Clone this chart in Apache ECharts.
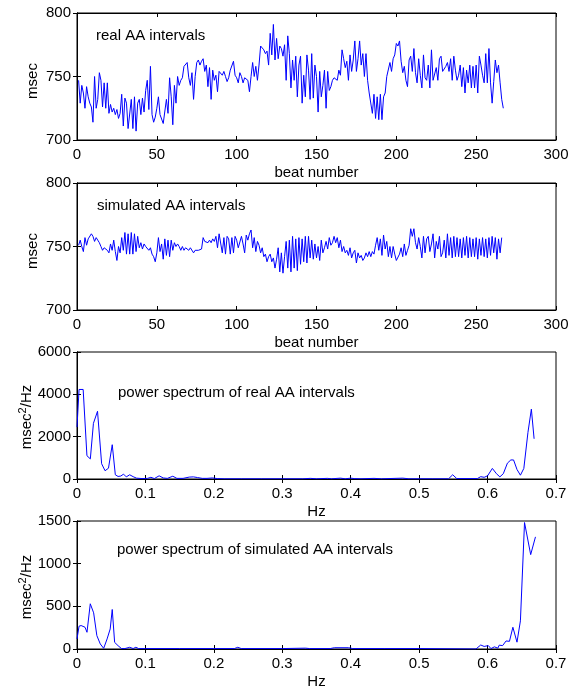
<!DOCTYPE html>
<html><head><meta charset="utf-8">
<script src="https://cdn.jsdelivr.net/npm/echarts@6/dist/echarts.min.js"></script>
<style>html,body{margin:0;padding:0;background:#fff}#c{width:580px;height:692px}</style>
</head><body><div id="c"></div>
<script>
// real AA intervals (msec), beats 1..267
const realAA = [
747,729,743,737,725, 742,734,729,726,714, 750,725,732,753,747, 726,745,725,745,721,
728,722,725,720,724, 717,721,736,711,733, 729,709,708,732,709, 734,707,729,732,720,
733,722,739,747,724, 758,720,714,718,725, 734,720,721,713,712, 732,721,749,734,712,
743,729,750,743,747, 749,758,758,761,749, 743,753,732,750,761, 763,759,762,764,754,
759,742,757,732,755, 747,751,738,754,755, 751,754,750,746,749, 755,754,762,751,749,
745,753,
750,745,749,750,747,738,750,761,750,758,747,759,774,775,771,768,770,759,784,767,
791,763,780,764,774,772,766,775,747,782,768,741,763,747,766,734,759,766,729,751,
734,767,755,732,768,733,759,750,722,754,734,743,755,725,754,739,742,747,749,750,
747,755,751,771,764,757,762,747,767,754,763,778,754,764,778,759,768,750,768,747,
737,738,721,736,717,734,716,736,716,734,737,750,749,761,754,764,767,776,774,
778,762,753,758,747,742,763,766,754,772,753,745,764,751,741,767,749,747,759,741,
771,747,746,757,747,764,766,754,754,758,761,754,764,747,766,755,747,751,759,742,
757,737,755,745,759,741,758,741,759,737,766,759,751,745,768,745,772,745,729,746,
763,753,759,745,732,725
];
// simulated AA intervals (msec), beats 1..266
const simAA = [
751,755,750,746,757,751,756,757,760,758,754,757,755,753,750,747,749,750,747,745,
752,747,755,746,739,750,745,757,747,761,744,760,744,761,744,760,746,758,749,753,
748,752,750,751,747,749,744,742,738,745,757,746,752,740,756,743,755,742,755,747,
753,750,752,750,747,750,747,749,750,747,749,750,745,747,747,747,748,748,757,754,
755,753,755,753,756,754,758,749,760,761,745,757,744,758,756,744,757,745,758,755,749,
750,758,752,745,759,755,760,763,749,
757,746,754,751,745,749,742,744,738,742,744,738,741,733,740,749,730,745,729,742,
754,733,755,730,758,733,756,731,757,736,756,738,758,737,758,741,755,740,752,741,
750,739,755,745,749,754,748,757,751,753,758,753,757,749,755,746,750,745,747,743,
749,741,745,747,737,745,741,743,739,741,745,742,746,742,746,744,751,757,747,756,
743,759,748,754,742,750,741,750,744,739,
738,744,749,742,752,743,747,751,764,758,764,753,748,757,750,741,758,745,756,758,
746,752,760,741,754,748,758,742,745,755,741,760,743,757,741,758,742,757,742,756,
741,757,743,758,741,757,742,756,742,757,740,756,743,757,742,756,741,757,743,758,
745,757,740,756,745,757
];
// power spectrum of real AA intervals
const realFreq = [0,0.003,0.009,0.0145,0.0195,0.024,0.030,0.036,0.041,0.046,0.0515,0.056,0.06,0.064,0.068,0.072,0.077,0.082,0.087,0.095,0.103,0.108,0.113,0.12,0.126,0.132,0.14,0.146,0.155,0.164,0.17,0.176,0.183,0.19,0.198,0.205,0.215,0.24,0.27,0.3,0.33,0.341,0.35,0.366,0.372,0.385,0.392,0.4,0.405,0.415,0.434,0.445,0.476,0.485,0.52,0.543,0.549,0.555,0.585,0.59,0.595,0.6,0.607,0.613,0.618,0.623,0.629,0.634,0.638,0.643,0.648,0.653,0.659,0.664,0.668];
const realPower = [2450,4230,4230,1100,950,2630,3200,720,390,510,1620,200,120,140,230,100,200,110,40,20,30,80,20,150,50,30,130,30,30,90,100,70,30,30,50,20,10,10,10,10,10,30,10,30,10,40,10,40,20,10,30,10,40,10,10,10,200,20,20,110,80,150,500,250,100,250,750,900,900,450,180,500,2200,3300,1900];
// power spectrum of simulated AA intervals
const simFreq = [0,0.003,0.006,0.0087,0.0117,0.0146,0.0194,0.0243,0.029,0.034,0.039,0.044,0.0485,0.0515,0.055,0.06,0.065,0.07,0.077,0.082,0.086,0.09,0.1,0.15,0.2,0.23,0.235,0.24,0.3,0.334,0.34,0.37,0.376,0.397,0.403,0.45,0.5,0.583,0.59,0.595,0.601,0.605,0.61,0.615,0.617,0.622,0.627,0.632,0.637,0.643,0.648,0.654,0.663,0.670];
const simPower = [118,267,275,275,255,196,530,424,157,59,8,118,235,463,78,39,5,5,20,5,20,5,5,5,5,5,20,5,5,10,5,5,15,15,5,5,5,0,47,30,40,5,25,10,45,40,94,90,255,80,330,1482,1106,1314];

const panelTitles = ['real AA intervals','simulated AA intervals','power spectrum of real AA intervals','power spectrum of simulated AA intervals'];
const xNames = ['beat number','beat number','Hz','Hz'];
const yNames = ['{a|msec}','{a|msec}','{a|msec}{s|2}{a|/Hz}','{a|msec}{s|2}{a|/Hz}'];

const FONT = '"Liberation Sans", Arial, sans-serif';
const gridPos = [
  {left:77, top:13, width:479, height:127},
  {left:77, top:183, width:479, height:127},
  {left:77, top:352, width:479, height:127},
  {left:77, top:521, width:479, height:128}
];
const xRanges = [{min:0,max:300,interval:50},{min:0,max:300,interval:50},{min:0,max:0.7,interval:0.1},{min:0,max:0.7,interval:0.1}];
const yRanges = [{min:700,max:800,interval:50},{min:700,max:800,interval:50},{min:0,max:6000,interval:2000},{min:0,max:1500,interval:500}];
const titlePos = [[96,37],[97,207],[118,394],[117,551]];
const yNamePos = [[33,81],[33,251],[27,417],[27,587]];

const line = {show:true, lineStyle:{color:'#000', width:1}};
const tick = {show:true, inside:true, length:4, lineStyle:{color:'#000', width:1}};
const lab = {color:'#000', fontSize:15, fontFamily:FONT};
const fmt = v => String(+(+v).toFixed(3));

const grid = [], xAxis = [], yAxis = [], series = [], graphic = [];
for (let i = 0; i < 4; i++) {
  grid.push(Object.assign({show:true, borderColor:'#000', borderWidth:1, backgroundColor:'#fff', containLabel:false}, gridPos[i]));
  xAxis.push(Object.assign({type:'value', gridIndex:i, position:'bottom', axisLine:line, axisTick:tick,
    axisLabel:Object.assign({margin:7, formatter:fmt}, lab), splitLine:{show:false},
    name:xNames[i], nameLocation:'middle', nameGap:25, nameTextStyle:lab}, xRanges[i]));
  xAxis.push(Object.assign({type:'value', gridIndex:i, position:'top', axisLine:line, axisTick:tick,
    axisLabel:{show:false}, splitLine:{show:false}}, xRanges[i]));
  yAxis.push(Object.assign({type:'value', gridIndex:i, position:'left', axisLine:line, axisTick:tick,
    axisLabel:Object.assign({margin:6, formatter:fmt}, lab), splitLine:{show:false}}, yRanges[i]));
  yAxis.push(Object.assign({type:'value', gridIndex:i, position:'right', axisLine:line, axisTick:tick,
    axisLabel:{show:false}, splitLine:{show:false}}, yRanges[i]));
  graphic.push({type:'text', left:titlePos[i][0], top:titlePos[i][1]-9,
    style:{text:panelTitles[i], fill:'#000', font:'15px ' + FONT}});
  graphic.push({type:'text', x:yNamePos[i][0], y:yNamePos[i][1], rotation:Math.PI/2,
    style:{text:yNames[i], fill:'#000', align:'center', verticalAlign:'middle',
      rich:{a:{fontSize:15, fontFamily:FONT, fill:'#000', lineHeight:18},
            s:{fontSize:11, fontFamily:FONT, fill:'#000', padding:[0,0,9,0]}}}});
}
const mk = (xs, ys) => ys.map((v, k) => [xs[k], v]);
const beatsR = realAA.map((_, k) => k + 1);
const beatsS = simAA.map((_, k) => k + 1);
const datas = [mk(beatsR, realAA), mk(beatsS, simAA), mk(realFreq, realPower), mk(simFreq, simPower)];
for (let i = 0; i < 4; i++) {
  series.push({type:'line', xAxisIndex:2*i, yAxisIndex:2*i, data:datas[i], showSymbol:false,
    symbol:'none', lineStyle:{color:'#0000ff', width:1}, silent:true, animation:false});
}
const chart = echarts.init(document.getElementById('c'), null, {renderer:'canvas'});
chart.setOption({backgroundColor:'#fff', animation:false, grid, xAxis, yAxis, series, graphic});
</script>
</body></html>
